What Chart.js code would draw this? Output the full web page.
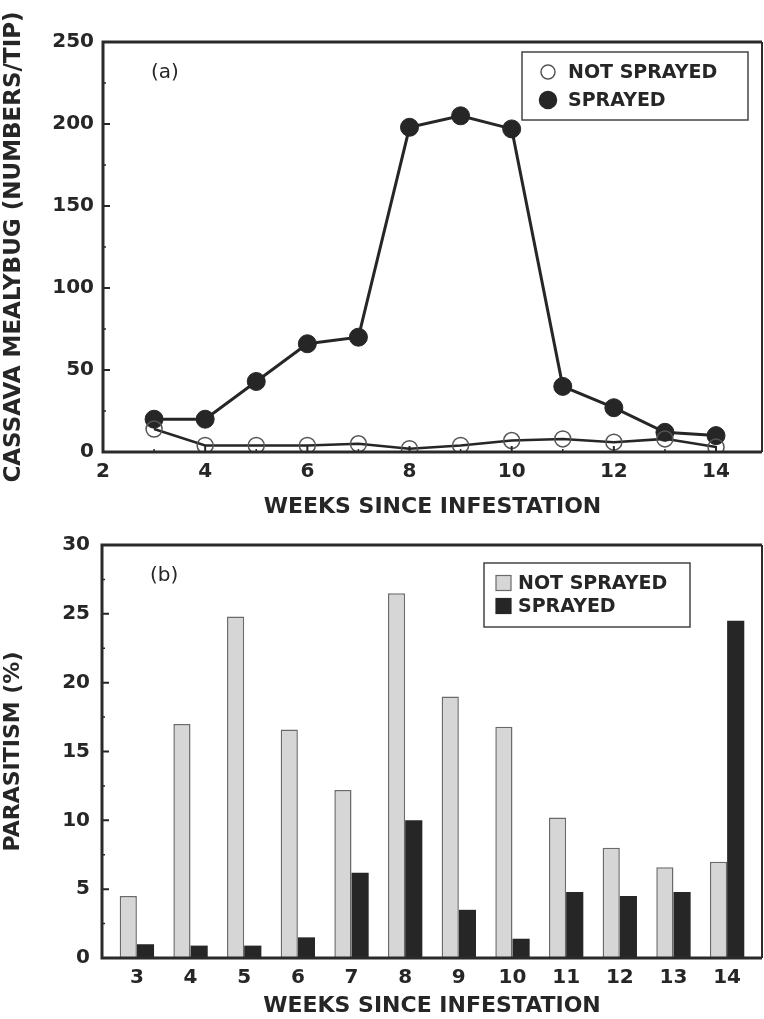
<!DOCTYPE html>
<html>
<head>
<meta charset="utf-8">
<script src="https://cdn.jsdelivr.net/npm/chart.js@4/dist/chart.umd.min.js"></script>
<style>
  body { margin: 0; background: #fff; }
  #wrap { position: relative; width: 764px; height: 1019px; }
  #top-box { position: absolute; left: 0; top: 0; width: 764px; height: 520px; }
  #bottom-box { position: absolute; left: 0; top: 520px; width: 764px; height: 499px; }
</style>
</head>
<body>
<div id="wrap">
  <div id="top-box"><canvas id="mealybug-chart"></canvas></div>
  <div id="bottom-box"><canvas id="parasitism-chart"></canvas></div>
</div>
<script>
// panel (a): mealybug numbers per tip
const weeks = [3, 4, 5, 6, 7, 8, 9, 10, 11, 12, 13, 14];
const mealybugNotSprayed = [14, 4, 4, 4, 5, 2, 4, 7, 8, 6, 8, 3];
const mealybugSprayed = [20, 20, 43, 66, 70, 198, 205, 197, 40, 27, 12, 10];
const topXTicks = [2, 4, 6, 8, 10, 12, 14];
const topYTicks = [0, 50, 100, 150, 200, 250];

// panel (b): parasitism %
const parasitismNotSprayed = [4.5, 17, 24.8, 16.6, 12.2, 26.5, 19, 16.8, 10.2, 8, 6.6, 7];
const parasitismSprayed = [1, 0.9, 0.9, 1.5, 6.2, 10, 3.5, 1.4, 4.8, 4.5, 4.8, 24.5];
const bottomYTicks = [0, 5, 10, 15, 20, 25, 30];

const seriesLabels = ["NOT SPRAYED", "SPRAYED"];
const ink = "#262626";
const fontFamily = "'DejaVu Sans', sans-serif";

Chart.defaults.font.family = fontFamily;
Chart.defaults.color = ink;
Chart.defaults.animation = false;

// frame, inward ticks, panel letter and boxed legend
const figurePlugin = {
  id: "figure",
  afterDraw(chart, args, opts) {
    const ctx = chart.ctx;
    const area = chart.chartArea;
    const x = chart.scales.x;
    const y = chart.scales.y;
    ctx.save();
    ctx.strokeStyle = ink;
    ctx.lineWidth = 1.5;
    ctx.beginPath();
    (opts.yMinor || []).forEach((v) => {
      const py = y.getPixelForValue(v);
      ctx.moveTo(area.left, py);
      ctx.lineTo(area.left + 3, py);
    });
    (opts.xMinor || []).forEach((v) => {
      const px = x.getPixelForValue(v);
      ctx.moveTo(px, area.bottom);
      ctx.lineTo(px, area.bottom - 3);
    });
    ctx.stroke();
    ctx.lineWidth = 2;
    ctx.beginPath();
    (opts.yMajor || []).forEach((v) => {
      const py = y.getPixelForValue(v);
      ctx.moveTo(area.left, py);
      ctx.lineTo(area.left + 7, py);
    });
    (opts.xMajor || []).forEach((v) => {
      const px = x.getPixelForValue(v);
      ctx.moveTo(px, area.bottom);
      ctx.lineTo(px, area.bottom - 6);
    });
    ctx.stroke();

    // plot frame
    ctx.lineWidth = 3;
    ctx.strokeStyle = "#2a2a2a";
    ctx.beginPath();
    ctx.moveTo(area.right, area.top);
    ctx.lineTo(area.left, area.top);
    ctx.lineTo(area.left, area.bottom);
    ctx.lineTo(area.right, area.bottom);
    ctx.stroke();
    ctx.lineWidth = 2;
    ctx.beginPath();
    ctx.moveTo(area.right, area.top);
    ctx.lineTo(area.right, area.bottom);
    ctx.stroke();

    // panel letter
    ctx.fillStyle = ink;
    ctx.font = "20px " + fontFamily;
    ctx.textBaseline = "middle";
    ctx.textAlign = "left";
    ctx.fillText(opts.letter, area.left + 48, area.top + 31);

    // legend
    const lg = opts.legend;
    ctx.lineWidth = 1.5;
    ctx.strokeStyle = "#444";
    ctx.strokeRect(lg.left, lg.top, lg.width, lg.height);
    ctx.font = "bold 19px " + fontFamily;
    chart.data.datasets.forEach((ds, i) => {
      const cy = lg.top + lg.firstRow + i * lg.rowGap;
      if (opts.markers === "circle") {
        ctx.beginPath();
        ctx.arc(lg.left + 26, cy, i === 0 ? 7 : 8.5, 0, Math.PI * 2);
        ctx.fillStyle = ds.pointBackgroundColor;
        ctx.fill();
        ctx.lineWidth = 1.5;
        ctx.strokeStyle = ds.pointBorderColor;
        ctx.stroke();
      } else {
        ctx.fillStyle = ds.backgroundColor;
        ctx.fillRect(lg.left + 12, cy - 7.5, 15, 15);
        ctx.lineWidth = 1.2;
        ctx.strokeStyle = ds.borderColor || ds.backgroundColor;
        ctx.strokeRect(lg.left + 12, cy - 7.5, 15, 15);
      }
      ctx.fillStyle = ink;
      ctx.fillText(ds.label, lg.left + lg.textOffset, cy + 1);
    });
    ctx.restore();
  },
};

function fixedTicks(values) {
  return (scale) => {
    scale.ticks = values.map((v) => ({ value: v }));
  };
}

// fixed axis height, and no extra side padding for the edge labels
function xAxisFit(height) {
  return (scale) => {
    scale.height = height;
    scale.paddingLeft = 0;
    scale.paddingRight = 0;
  };
}

function axisTitle(text, size, padding) {
  return {
    display: true,
    text: text,
    color: ink,
    font: { size: size, weight: "bold" },
    padding: padding,
  };
}

new Chart(document.getElementById("mealybug-chart"), {
  type: "line",
  data: {
    datasets: [
      {
        label: seriesLabels[0],
        data: weeks.map((w, i) => ({ x: w, y: mealybugNotSprayed[i] })),
        borderColor: ink,
        borderWidth: 2.5,
        pointRadius: 8,
        pointBorderWidth: 1.5,
        pointBackgroundColor: "rgba(255,255,255,0)",
        pointBorderColor: "#555",
      },
      {
        label: seriesLabels[1],
        data: weeks.map((w, i) => ({ x: w, y: mealybugSprayed[i] })),
        borderColor: ink,
        borderWidth: 3,
        pointRadius: 9,
        pointBorderWidth: 1,
        pointBackgroundColor: ink,
        pointBorderColor: ink,
      },
    ],
  },
  options: {
    responsive: true,
    maintainAspectRatio: false,
    layout: { autoPadding: false, padding: { top: 42, right: 2, left: 0, bottom: 0 } },
    plugins: {
      legend: { display: false },
      tooltip: { enabled: false },
      figure: {
        letter: "(a)",
        markers: "circle",
        yMajor: topYTicks,
        yMinor: [25, 75, 125, 175, 225],
        xMajor: topXTicks,
        xMinor: [3, 5, 7, 9, 11, 13],
        legend: { left: 522, top: 52, width: 226, height: 68, firstRow: 20, rowGap: 28, textOffset: 46 },
      },
    },
    scales: {
      x: {
        type: "linear",
        min: 2,
        max: 14.9,
        afterBuildTicks: fixedTicks(topXTicks),
        afterFit: xAxisFit(68),
        grid: { display: false, drawTicks: false },
        border: { display: false },
        ticks: { font: { size: 20, weight: "bold" }, color: ink, padding: 8, maxRotation: 0 },
        title: axisTitle("WEEKS SINCE INFESTATION", 22, { top: 2, bottom: 0 }),
      },
      y: {
        min: 0,
        max: 250,
        afterBuildTicks: fixedTicks(topYTicks),
        afterFit: (scale) => { scale.width = 103; },
        grid: { display: false, drawTicks: false },
        border: { display: false },
        ticks: { font: { size: 20, weight: "bold" }, color: ink, padding: 9 },
        title: axisTitle("CASSAVA MEALYBUG (NUMBERS/TIP)", 23, { top: 0, bottom: 0 }),
      },
    },
  },
  plugins: [figurePlugin],
});

new Chart(document.getElementById("parasitism-chart"), {
  type: "bar",
  data: {
    datasets: [
      {
        label: seriesLabels[0],
        data: weeks.map((w, i) => ({ x: w, y: parasitismNotSprayed[i] })),
        backgroundColor: "#d6d6d6",
        borderColor: "#6a6a6a",
        borderWidth: 1.5,
        categoryPercentage: 0.64,
        barPercentage: 1,
      },
      {
        label: seriesLabels[1],
        data: weeks.map((w, i) => ({ x: w, y: parasitismSprayed[i] })),
        backgroundColor: ink,
        borderWidth: 0,
        categoryPercentage: 0.64,
        barPercentage: 1,
      },
    ],
  },
  options: {
    responsive: true,
    maintainAspectRatio: false,
    layout: { padding: { top: 25, right: 2, left: 0, bottom: 0 } },
    plugins: {
      legend: { display: false },
      tooltip: { enabled: false },
      figure: {
        letter: "(b)",
        markers: "square",
        yMajor: bottomYTicks,
        yMinor: [2.5, 7.5, 12.5, 17.5, 22.5, 27.5],
        legend: { left: 484, top: 43, width: 206, height: 64, firstRow: 20, rowGap: 23, textOffset: 34 },
      },
    },
    scales: {
      x: {
        type: "linear",
        offset: false,
        min: 2.35,
        max: 14.65,
        afterBuildTicks: fixedTicks(weeks),
        afterFit: xAxisFit(61),
        grid: { display: false, drawTicks: false },
        border: { display: false },
        ticks: { font: { size: 20, weight: "bold" }, color: ink, padding: 8, maxRotation: 0 },
        title: axisTitle("WEEKS SINCE INFESTATION", 22, { top: 2, bottom: 0 }),
      },
      y: {
        min: 0,
        max: 30,
        afterBuildTicks: fixedTicks(bottomYTicks),
        afterFit: (scale) => { scale.width = 102; },
        grid: { display: false, drawTicks: false },
        border: { display: false },
        ticks: { font: { size: 20, weight: "bold" }, color: ink, padding: 12 },
        title: axisTitle("PARASITISM (%)", 22, { top: 0, bottom: 0 }),
      },
    },
  },
  plugins: [figurePlugin],
});
</script>
</body>
</html>
